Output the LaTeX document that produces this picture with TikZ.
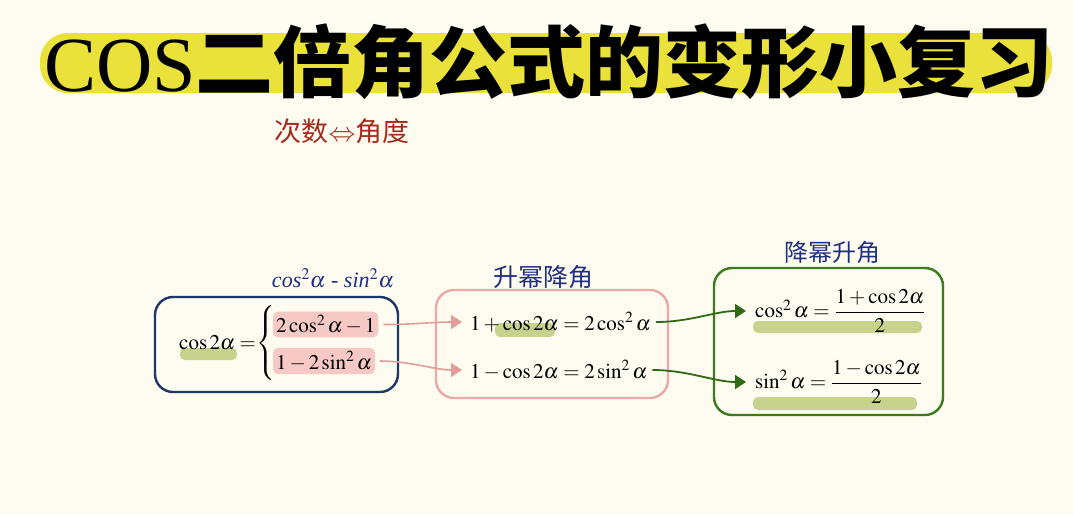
\documentclass[tikz,border=0pt]{standalone}
\usepackage{mathptmx}
\usepackage{fontspec}
\setmainfont{Liberation Serif}
\newfontfamily\cjk{Noto Sans CJK SC}
\usetikzlibrary{arrows.meta}
\definecolor{bg}{HTML}{FEFBF1}
\definecolor{titleyellow}{HTML}{EAE23A}
\definecolor{navy}{HTML}{1C3768}
\definecolor{pinkborder}{HTML}{E9AAA8}
\definecolor{pinkfill}{HTML}{F6C9C5}
\definecolor{pinkline}{HTML}{E49C9A}
\definecolor{greenbox}{HTML}{3C7B1F}
\definecolor{greenline}{HTML}{2F6A12}
\definecolor{greenhl}{HTML}{C7D28C}
\definecolor{redhand}{HTML}{A52A1E}
\definecolor{bluehand}{HTML}{1E2F80}
\tikzset{
  formula/.style={inner sep=0pt, font=\fontsize{21}{24}\selectfont},
  pinkhl/.style={fill=pinkfill, rounded corners=5pt, inner xsep=3pt, inner ysep=3pt, font=\fontsize{21}{24}\selectfont},
  hand/.style={inner sep=0pt, font=\cjk\fontsize{25}{27}\selectfont},
  boxframe/.style={rounded corners=18pt, line width=2.4pt},
  pinkconn/.style={draw=pinkline, line width=1.6pt, -{Triangle[length=11pt,width=14pt,fill=pinkline]}},
  greenconn/.style={draw=greenline, line width=1.8pt, -{Triangle[length=11pt,width=14pt,fill=greenline]}},
  ghl/.style={fill=greenhl, rounded corners=5pt}
}
\begin{document}
\begin{tikzpicture}[x=1pt,y=-1pt]
\fill[bg] (0,0) rectangle (1073,514);
\useasboundingbox (0,0) rectangle (1073,514);
% title
\fill[titleyellow, rounded corners=28pt] (40,33) rectangle (1052,93);
\node[anchor=west, inner sep=0pt] (title) at (44,62) {\fontsize{78}{78}\selectfont COS{\cjk\bfseries 二倍角公式的变形小复习}};
% handwritten note
\node[hand, text=redhand, font=\cjk\fontsize{27}{29}\selectfont] (note) at (342,131) {次数$\Leftrightarrow$角度};
% box 1
\draw[boxframe, draw=navy] (155,297) rectangle (398,392);
\node[hand, text=bluehand, font=\fontsize{22}{24}\selectfont\itshape] (lab1) at (333,278) {cos$^2\alpha$ - sin$^2\alpha$};
\fill[ghl] (180,348) rectangle (237,360);
\node[formula, anchor=west] (c2a) at (179,343) {$\cos 2\alpha =$};
\node[formula] (brace) at (266,343) {$\left\{\vrule height 32pt depth 32pt width 0pt\right.$};
\node[pinkhl, anchor=west] (h1) at (273,324.5) {$2\cos^2\alpha-1$};
\node[pinkhl, anchor=west] (h2) at (273,361) {$1-2\sin^2\alpha$};
% box 2
\draw[boxframe, draw=pinkborder] (436,290) rectangle (668,398);
\node[hand, text=bluehand] (lab2) at (543,277) {升幂降角};
\fill[ghl] (495,323) rectangle (555,337);
\node[formula, anchor=west] (f1) at (470,322) {$1+\cos 2\alpha = 2\cos^2\alpha$};
\node[formula, anchor=west] (f2) at (470,370) {$1-\cos 2\alpha = 2\sin^2\alpha$};
% box 3
\draw[boxframe, draw=greenbox] (714,268) rectangle (943,415);
\node[hand, text=bluehand, font=\cjk\fontsize{24}{26}\selectfont] (lab3) at (832,252) {降幂升角};
\fill[ghl] (753,321) rectangle (922,333);
\fill[ghl] (753,397) rectangle (917,410);
\node[formula, anchor=west] (g1) at (755,311) {$\cos^2\alpha = \displaystyle\frac{1+\cos 2\alpha}{2}$};
\node[formula, anchor=west] (g2) at (755,382) {$\sin^2\alpha = \displaystyle\frac{1-\cos 2\alpha}{2}$};
% connectors
\draw[pinkconn, shorten <=5pt, shorten >=8pt] (h1.east) .. controls +(35,0) and +(-35,0) .. (f1.west);
\draw[pinkconn, shorten <=5pt, shorten >=8pt] (h2.east) .. controls +(35,0) and +(-35,0) .. (f2.west);
\draw[greenconn, shorten <=5pt, shorten >=9pt] (f1.east) .. controls +(40,0) and +(-40,0) .. (g1.west);
\draw[greenconn, shorten <=5pt, shorten >=9pt] (f2.east) .. controls +(40,0) and +(-40,0) .. (g2.west);
\end{tikzpicture}
\end{document}
